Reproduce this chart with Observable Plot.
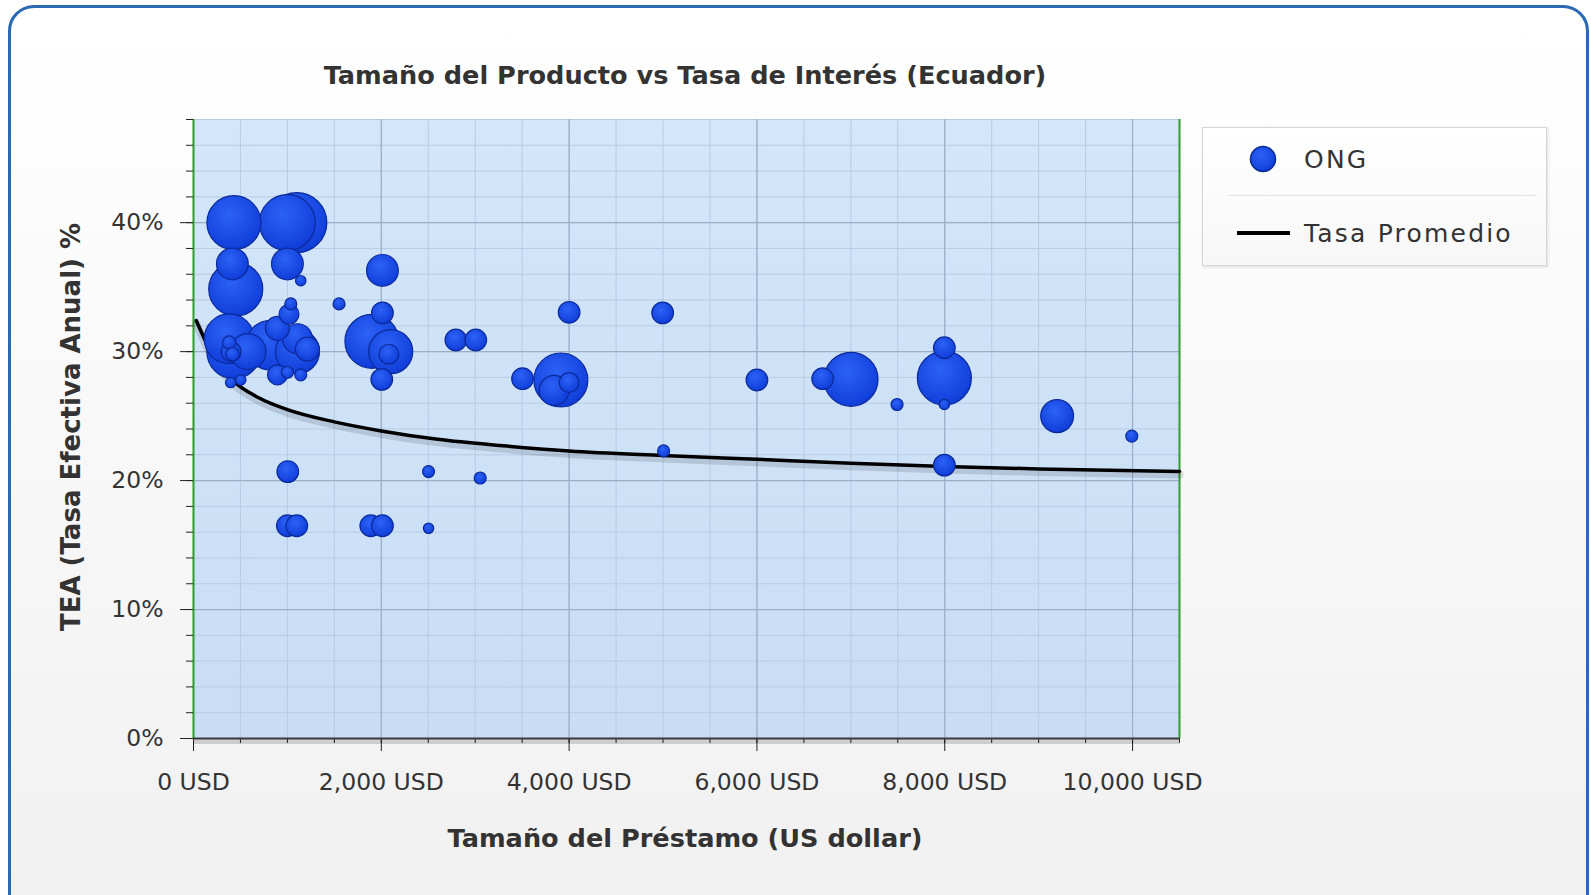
<!DOCTYPE html>
<html>
<head>
<meta charset="utf-8">
<script src="https://cdn.jsdelivr.net/npm/d3@7"></script>
<script src="https://cdn.jsdelivr.net/npm/@observablehq/plot@0.6"></script>
<style>
  html, body { margin: 0; padding: 0; width: 1591px; height: 895px; overflow: hidden; background: #ffffff; font-family: "DejaVu Sans", Verdana, sans-serif; }
  #frame { position: absolute; left: 8px; top: 5px; width: 1581px; height: 940px; box-sizing: border-box; border: 3.5px solid #2c69b3; border-radius: 26px; background: linear-gradient(#ffffff, #f0f0f0); }
  #chart { position: absolute; left: 0; top: 0; }
  .title { position: absolute; font-weight: bold; font-size: 25.6px; color: #333; white-space: nowrap; }
  #title { left: 685px; top: 75px; transform: translate(-50%, -50%); }
  #xtitle { left: 685px; top: 838px; transform: translate(-50%, -50%); }
  #ytitle { left: 71px; top: 427px; transform: translate(-50%, -50%) rotate(-90deg); font-size: 26px; }
  #legend { position: absolute; left: 1202px; top: 127px; width: 345px; height: 139px; box-sizing: border-box; border: 1px solid #d6d6d6; background: linear-gradient(#ffffff, #f7f7f7); box-shadow: 1px 1px 3px rgba(0,0,0,0.12); }
  #legend .lbl { position: absolute; left: 101px; font-size: 25px; letter-spacing: 2.2px; color: #333; transform: translateY(-50%); white-space: nowrap; }
  #legend .sep { position: absolute; left: 26px; width: 307px; top: 67px; height: 1px; background: #e2e2e2; }
  #legend svg { position: absolute; left: 0; top: 0; }
</style>
</head>
<body>
<div id="frame"></div>
<div id="chart"></div>
<div class="title" id="title">Tamaño del Producto vs Tasa de Interés (Ecuador)</div>
<div class="title" id="xtitle">Tamaño del Préstamo (US dollar)</div>
<div class="title" id="ytitle">TEA (Tasa Efectiva Anual) %</div>
<div id="legend">
  <svg width="345" height="139">
    <defs>
      <radialGradient id="legBubble" cx="0.42" cy="0.35" r="0.75">
        <stop offset="0" stop-color="#2c62f5"/>
        <stop offset="0.8" stop-color="#1240dc"/>
        <stop offset="1" stop-color="#0c32bb"/>
      </radialGradient>
    </defs>
    <circle cx="60" cy="31" r="12.5" fill="url(#legBubble)" stroke="#0b2a8e" stroke-width="1.5"/>
    <line x1="34" x2="87" y1="105" y2="105" stroke="#000" stroke-width="4"/>
  </svg>
  <div class="lbl" style="top:31px">ONG</div>
  <div class="sep"></div>
  <div class="lbl" style="top:105px">Tasa Promedio</div>
</div>
<script>
// ---- Data ----
// ONG bubbles: loan size (USD), effective annual rate (%), bubble size (relative)
const loanUSD = [430, 1000, 1100, 414, 450, 1000, 1142, 1550, 2012, 2012,
  1900, 2100, 2080, 2005,
  380, 430, 580, 400, 379, 414, 396, 503,
  822, 894, 1036, 1017, 1107, 1107, 1213, 894, 1142, 1000,
  2794, 3006, 4000, 3504, 3912, 3841, 4000,
  2503, 3053, 1888, 2012, 2503, 1004, 1000, 1100,
  4996, 6000, 6700, 7002, 7492, 7996, 7996, 7996, 5006, 7996, 9197, 9992];
const rateTEA = [40.0, 40.0, 40.0, 36.8, 34.85, 36.8, 35.5, 33.7, 36.3, 33.0,
  30.8, 30.0, 29.8, 27.85,
  31.0, 30.0, 30.0, 30.0, 30.7, 29.8, 27.6, 27.8,
  30.5, 31.8, 33.7, 32.9, 31.0, 30.0, 30.2, 28.2, 28.2, 28.4,
  30.9, 30.9, 33.05, 27.9, 27.8, 27.0, 27.6,
  20.7, 20.2, 16.5, 16.5, 16.3, 20.7, 16.5, 16.5,
  33.0, 27.8, 27.9, 27.85, 25.9, 30.3, 27.95, 25.9, 22.3, 21.2, 25.0, 23.45];
const bubbleSize = [81, 87, 100, 28, 81, 28, 3, 4, 28, 13,
  81, 54, 11, 13,
  69, 81, 36, 11, 5, 5, 3, 3,
  69, 16, 4, 11, 25, 54, 16, 11, 4, 4,
  13, 13, 13, 13, 81, 25, 11,
  4, 4, 13, 13, 3, 13, 13, 13,
  13, 13, 13, 81, 4, 13, 81, 3, 4, 13, 30, 4];

// Tasa Promedio curve
const avgUSD  = [30, 200, 400, 700, 1000, 1500, 2000, 2600, 3300, 4000, 5000, 6000, 7000, 8000, 9000, 10500];
const avgRate = [32.4, 29.8, 27.9, 26.4, 25.5, 24.55, 23.85, 23.2, 22.7, 22.3, 21.95, 21.65, 21.35, 21.1, 20.9, 20.7];

// Axes
const xDomain = [0, 10500];
const yDomain = [0, 48];
const xTicks = [0, 2000, 4000, 6000, 8000, 10000];
const xMinor = d3.range(0, 10501, 500);
const yTicks = [0, 10, 20, 30, 40];
const yMinor = d3.range(0, 49, 2);

// ---- Build tables ----
const bubbles = loanUSD.map((x, i) => ({usd: x, rate: rateTEA[i], size: bubbleSize[i]}));
const avg = avgUSD.map((x, i) => ({usd: x, rate: avgRate[i]}));

const chart = Plot.plot({
  width: 1591,
  height: 895,
  marginLeft: 193,
  marginRight: 412,
  marginTop: 119,
  marginBottom: 157,
  style: {fontFamily: "DejaVu Sans, Verdana, sans-serif", fontSize: "23.5px", color: "#333", background: "transparent", overflow: "visible"},
  x: {domain: xDomain, label: null},
  y: {domain: yDomain, label: null},
  r: {domain: [0, 100], range: [0, 30]},
  marks: [
    Plot.frame({fill: "url(#plotBg)", stroke: "none"}),
    Plot.gridX({ticks: xMinor, stroke: "#b7cbe2", strokeOpacity: 1, strokeWidth: 1}),
    Plot.gridY({ticks: yMinor, stroke: "#b7cbe2", strokeOpacity: 1, strokeWidth: 1}),
    Plot.gridX({ticks: xTicks, stroke: "#9aaec6", strokeOpacity: 1, strokeWidth: 1.2}),
    Plot.gridY({ticks: yTicks, stroke: "#9aaec6", strokeOpacity: 1, strokeWidth: 1.2}),
    Plot.ruleX(xDomain, {stroke: "#2e9e2e", strokeWidth: 2}),
    Plot.axisY({ticks: yMinor, tickSize: 7, tickFormat: () => "", label: null, stroke: "#222"}),
    Plot.axisY({ticks: yTicks, tickSize: 13, tickPadding: 17, tickFormat: d => d + "%", label: null, stroke: "#222", fill: "#333"}),
    Plot.axisX({ticks: xMinor, tickSize: 5, tickFormat: () => "", label: null, stroke: "#222"}),
    Plot.axisX({ticks: xTicks, tickSize: 13, tickPadding: 22, tickFormat: d => d3.format(",")(d) + " USD", label: null, stroke: "#222", fill: "#333"}),
    Plot.ruleY([0], {stroke: "#000", strokeOpacity: 0.15, strokeWidth: 5, dy: 3}),
    Plot.ruleY([0], {stroke: "#3a3a3a", strokeWidth: 2}),
    Plot.line(avg, {x: "usd", y: "rate", stroke: "#000", strokeOpacity: 0.12, strokeWidth: 8, dy: 3, curve: "monotone-x"}),
    Plot.line(avg, {x: "usd", y: "rate", stroke: "#000", strokeWidth: 3.5, curve: "monotone-x"}),
    Plot.dot(bubbles, {x: "usd", y: "rate", r: "size", fill: "url(#bubbleFill)", stroke: "#0b2a9a", strokeWidth: 1.2})
  ]
});

const defs = d3.select(chart).insert("defs", ":first-child");
const bg = defs.append("linearGradient").attr("id", "plotBg").attr("x1", 0).attr("y1", 0).attr("x2", 0).attr("y2", 1);
bg.append("stop").attr("offset", 0).attr("stop-color", "#d3e6fa");
bg.append("stop").attr("offset", 1).attr("stop-color", "#c8ddf4");
const bf = defs.append("radialGradient").attr("id", "bubbleFill").attr("cx", 0.42).attr("cy", 0.35).attr("r", 0.75);
bf.append("stop").attr("offset", 0).attr("stop-color", "#2c62f5");
bf.append("stop").attr("offset", 0.8).attr("stop-color", "#1240dc");
bf.append("stop").attr("offset", 1).attr("stop-color", "#0c32bb");

document.getElementById("chart").appendChild(chart);
</script>
</body>
</html>
